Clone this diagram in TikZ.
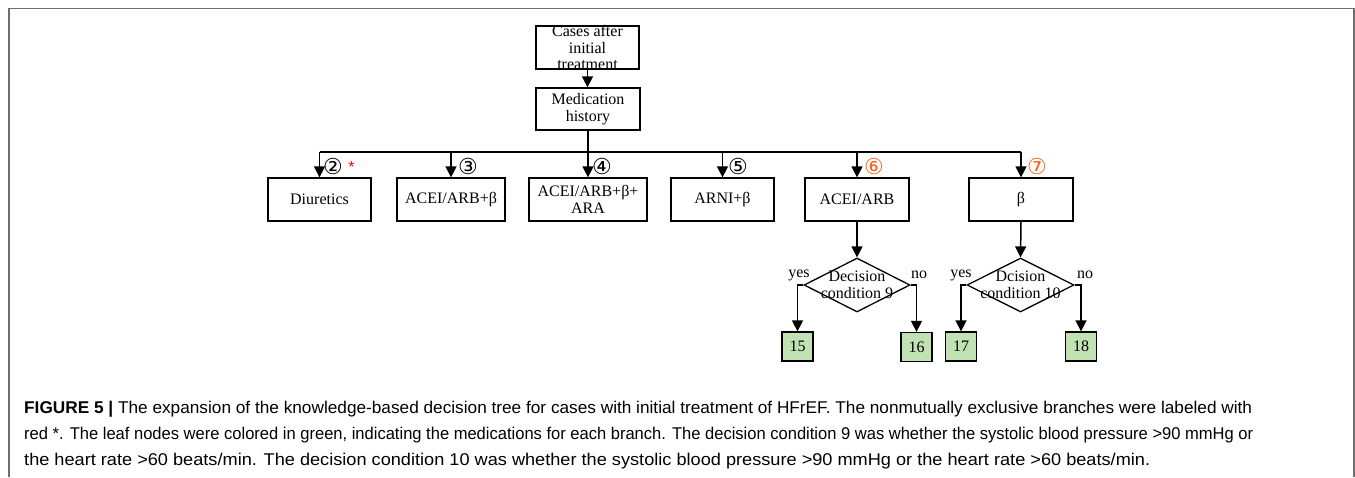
\documentclass[tikz,border=0pt]{standalone}
\usepackage{graphicx}
\usepackage{fontspec}
\setmainfont{Liberation Serif}
\newfontfamily\capfont{Liberation Sans}
\newfontfamily\symfont{DejaVu Sans}
\usetikzlibrary{arrows.meta,shapes.geometric}
\definecolor{leafgreen}{RGB}{193,226,178}
\definecolor{numorange}{RGB}{242,101,34}
\definecolor{framegray}{RGB}{110,110,110}
\tikzset{
  treebox/.style={draw, line width=1.3pt, inner sep=0pt, align=center,
    font=\fontsize{16}{16.5}\selectfont, minimum height=43},
  leafbox/.style={draw, line width=1.3pt, fill=leafgreen, inner sep=0pt,
    font=\fontsize{16}{16.5}\selectfont, minimum width=31, minimum height=29},
  txt/.style={inner sep=0pt, align=center, font=\fontsize{16}{16.5}\selectfont},
  decbox/.style={draw, diamond, line width=1.3pt, inner sep=0pt,
    minimum width=106, minimum height=54},
  conn/.style={line width=1.5pt},
  arr/.style={line width=1.5pt, -{Triangle[length=11pt,width=11pt]}},
  circnum/.style={inner sep=0pt, font=\symfont\fontsize{22}{22}\selectfont},
  capline/.style={inner sep=0pt, anchor=base west},
}
\newcommand\capfit[2]{\resizebox{#1}{\height}{\capfont\fontsize{17}{19}\selectfont #2}}
\begin{document}
\begin{tikzpicture}[x=1pt,y=-1pt]
\useasboundingbox (0,0) rectangle (1355,477);
\draw[framegray, line width=1.5pt] (9,477) -- (9,8.5) -- (1354,8.5) -- (1354,477);

% top boxes
\node[treebox, minimum width=103, label={[txt]center:Cases after\\initial\\treatment}] (cases) at (587.5,47.5) {};
\node[treebox, minimum width=104, minimum height=42] (med) at (588,109) {Medication\\history};
\draw[arr] (cases.south) -- (cases.south |- med.north);

% second row
\node[treebox, minimum width=103] (diu) at (319.5,199.5) {Diuretics};
\node[treebox, minimum width=108] (ab) at (451,199.5) {ACEI/ARB+β};
\node[treebox, minimum width=118] (aba) at (588,199.5) {ACEI/ARB+β+\\ARA};
\node[treebox, minimum width=103] (arni) at (722.5,199.5) {ARNI+β};
\node[treebox, minimum width=104] (acei) at (857,199.5) {ACEI/ARB};
\node[treebox, minimum width=104] (beta) at (1021,199.5) {β};

\coordinate (bus) at (588,152);
\draw[conn] (med.south) -- (bus);
\draw[conn] (diu.north |- bus) -- (beta.north |- bus);
\foreach \n in {diu,ab,aba,arni,acei,beta}{
  \draw[arr] (\n.north |- bus) -- (\n.north);
}

% circled labels
\node[circnum] (l2) at (333,166) {②};
\node[inner sep=0pt, text=red, font=\capfont\fontsize{16}{16}\selectfont] (star) at (351.5,167) {*};
\node[circnum] (l3) at (468,166) {③};
\node[circnum] (l4) at (602,166) {④};
\node[circnum] (l5) at (738,166) {⑤};
\node[circnum, text=numorange] (l6) at (874,166) {⑥};
\node[circnum, text=numorange] (l7) at (1037,166) {⑦};

% decision diamonds
\node[decbox] (d9) at (857,285) {};
\node[txt] (d9t) at (857,285) {Decision\\condition 9};
\node[decbox, minimum width=107] (d10) at (1020.5,285) {};
\node[txt] (d10t) at (1020.5,285) {Dcision\\condition 10};
\draw[arr] (acei.south) -- (d9.north);
\draw[arr] (beta.south) -- (d10.north);

% leaves
\node[leafbox] (n15) at (797.5,346.5) {15};
\node[leafbox] (n16) at (916.5,347) {16};
\node[leafbox] (n17) at (961,346.5) {17};
\node[leafbox] (n18) at (1081,346.5) {18};
\draw[arr] (d9.west) -| (n15.north);
\draw[arr] (d9.east) -| (n16.north);
\draw[arr] (d10.west) -| (n17.north);
\draw[arr] (d10.east) -| (n18.north);

\node[txt] (y9) at (799,275) {yes};
\node[txt] (no9) at (919,275) {no};
\node[txt] (y10) at (961,275) {yes};
\node[txt] (no10) at (1085,275) {no};

% caption
\node[capline] (cap1) at (24,413) {\capfit{1228pt}{\textbf{FIGURE 5 |} The expansion of the knowledge-based decision tree for cases with initial treatment of HFrEF. The nonmutually exclusive branches were labeled with}};
\node[capline] (cap2) at (24,439) {\capfit{1229pt}{red *. The leaf nodes were colored in green, indicating the medications for each branch. The decision condition 9 was whether the systolic blood pressure >90 mmHg or}};
\node[capline] (cap3) at (24,465) {\capfit{1126pt}{the heart rate >60 beats/min. The decision condition 10 was whether the systolic blood pressure >90 mmHg or the heart rate >60 beats/min.}};
\end{tikzpicture}
\end{document}
